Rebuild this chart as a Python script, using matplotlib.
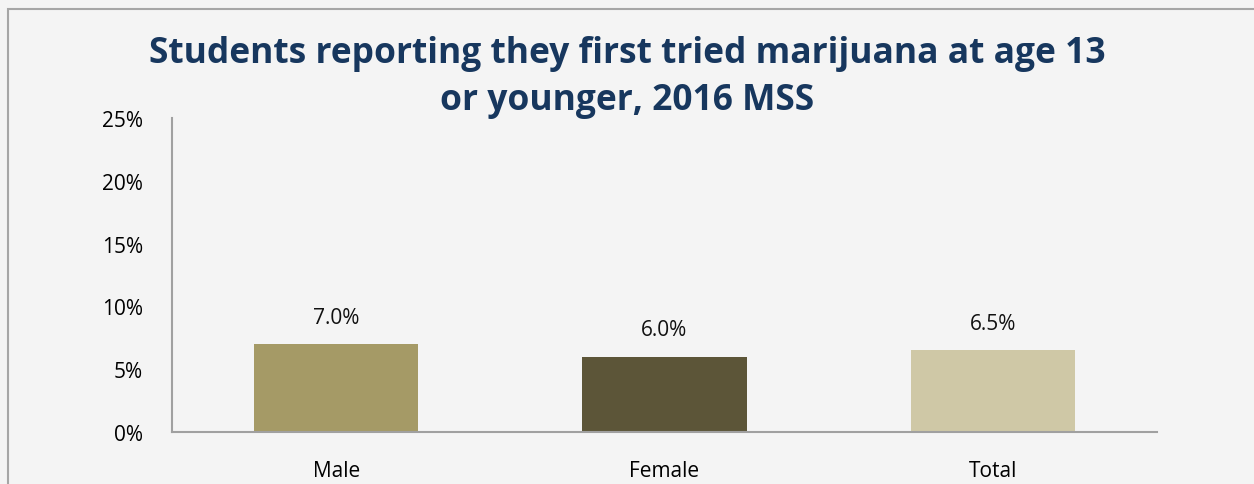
import matplotlib
matplotlib.use("Agg")
import matplotlib.pyplot as plt
from matplotlib.patches import Rectangle

categories = ["Male", "Female", "Total"]
values = [7.0, 6.0, 6.5]
bar_colors = ["#A59A66", "#5C5538", "#CFC8A6"]
y_ticks = [0, 5, 10, 15, 20, 25]

plt.rcParams["font.family"] = ["Open Sans", "DejaVu Sans"]

fig = plt.figure(figsize=(12.54, 4.85), dpi=100)
fig.patch.set_facecolor("#F4F4F4")

# outer chart frame, runs off the right and bottom edges
fig.patches.append(Rectangle((8 / 1254, -0.1), 1.2, 1.1 - 10 / 485,
                             transform=fig.transFigure, fill=False,
                             edgecolor="#A6A6A6", linewidth=1.5))

ax = fig.add_axes([172 / 1254, 1 - 433 / 485, 985 / 1254, 314 / 485])
ax.set_facecolor("#F4F4F4")

x = range(len(categories))
ax.bar(x, values, width=0.5, color=bar_colors)
for i, v in enumerate(values):
    ax.text(i, v + 1.3, f"{v:.1f}%", ha="center", va="bottom", fontsize=15, color="#111111")

ax.set_xlim(-0.5, len(categories) - 0.5)
ax.set_ylim(0, 25)
ax.set_yticks(y_ticks)
ax.set_yticklabels([f"{t}%" for t in y_ticks], fontsize=15)
ax.set_xticks(list(x))
ax.set_xticklabels(categories, fontsize=15)
ax.tick_params(axis="x", length=0, pad=20)
ax.tick_params(axis="y", length=0, pad=21)

for side in ["top", "right"]:
    ax.spines[side].set_visible(False)
for side in ["left", "bottom"]:
    ax.spines[side].set_color("#A0A0A0")
    ax.spines[side].set_linewidth(1.5)

fig.text(0.5, 0.84, "Students reporting they first tried marijuana at age 13\nor younger, 2016 MSS",
         ha="center", va="center", fontsize=25.5, fontweight="bold", color="#17375E",
         linespacing=1.42)

fig.savefig("out.png", dpi=100, facecolor=fig.get_facecolor())
